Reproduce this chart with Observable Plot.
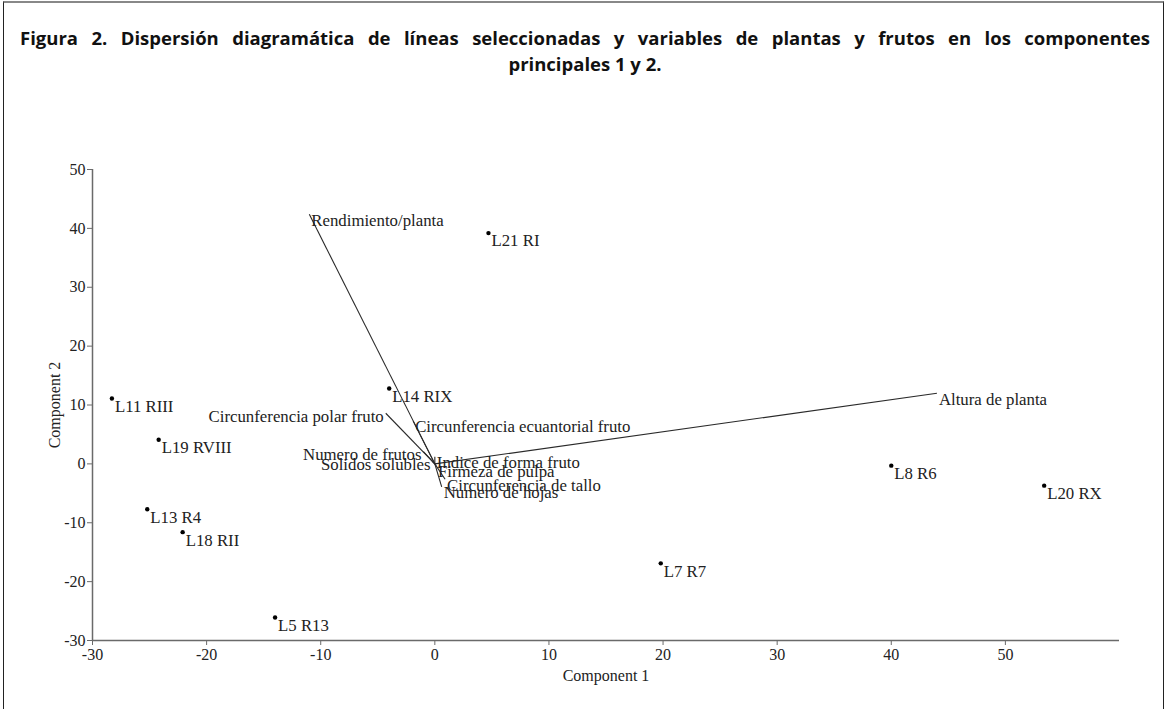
<!DOCTYPE html>
<html>
<head>
<meta charset="utf-8">
<script src="https://cdn.jsdelivr.net/npm/d3@7"></script>
<script src="https://cdn.jsdelivr.net/npm/@observablehq/plot@0.6"></script>
<style>
  html, body { margin: 0; padding: 0; background: #fff; }
  body { width: 1169px; height: 709px; position: relative; overflow: hidden; }
  #frame { position: absolute; left: 3px; top: 1px; width: 1161px; height: 740px;
           border: 1.5px solid #222; border-top: 2px solid #888; box-sizing: border-box; }
  #title { position: absolute; left: 20px; top: 25px; width: 1130px;
           font-family: "Open Sans", "Noto Sans", sans-serif; font-weight: bold; font-size: 18.5px; color: #111; line-height: 26px; }
  #title .l1 { text-align: justify; text-align-last: justify; white-space: nowrap; }
  #title .l2 { text-align: center; }
  #chart { position: absolute; left: 0; top: 100px; }
</style>
</head>
<body>
<div id="frame"></div>
<div id="title">
  <div class="l1">Figura 2. Dispersión diagramática de líneas seleccionadas y variables de plantas y frutos en los componentes</div>
  <div class="l2">principales 1 y 2.</div>
</div>
<div id="chart"></div>
<script>
// Observations (selected lines)
const pointNames = ["L21 RI", "L14 RIX", "L11 RIII", "L19 RVIII", "L13 R4", "L18 RII", "L5 R13", "L7 R7", "L8 R6", "L20 RX"];
const pointX = [4.7, -4.0, -28.3, -24.2, -25.2, -22.1, -14.0, 19.8, 40.0, 53.4];
const pointY = [39.2, 12.8, 11.1, 4.1, -7.7, -11.6, -26.1, -16.9, -0.3, -3.7];

// Variables (loading vectors)
const vectorNames = ["Rendimiento/planta", "Altura de planta", "Circunferencia polar fruto",
  "Circunferencia ecuantorial fruto", "Numero de frutos", "Solidos solubles",
  "Indice de forma fruto", "Firmeza de pulpa",
  "Circunferencia de tallo", "Numero de hojas"];
const vectorX = [-11.0, 44.0, -4.3, -1.9, -1.0, -0.2, 0.0, 0.1, 0.9, 0.6];
const vectorY = [42.4, 12.0, 8.6, 7.3, 2.1, 0.4, 1.2, -0.3, -2.6, -3.9];
const leftLabeled = ["Circunferencia polar fruto", "Numero de frutos", "Solidos solubles"];

// Axis ticks
const xTicks = [-30, -20, -10, 0, 10, 20, 30, 40, 50];
const yTicks = [-30, -20, -10, 0, 10, 20, 30, 40, 50];

const points = pointNames.map((n, i) => ({name: n, x: pointX[i], y: pointY[i]}));
const vectors = vectorNames.map((n, i) => ({name: n, x: vectorX[i], y: vectorY[i]}));
const vRight = vectors.filter(d => !leftLabeled.includes(d.name));
const vLeft = vectors.filter(d => leftLabeled.includes(d.name));

const axisColor = "#6a6a6a";
const textColor = "#222";
const fmt = d => String(d);

const chart = Plot.plot({
  width: 1169,
  height: 609,
  marginLeft: 92,
  marginRight: 50,
  marginTop: 69,
  marginBottom: 69,
  style: {fontFamily: "'Liberation Serif', 'Times New Roman', serif", fontSize: "16px", color: textColor, background: "transparent"},
  x: {domain: [-30, 60]},
  y: {domain: [-30, 50]},
  marks: [
    Plot.ruleY([-30], {stroke: axisColor, strokeWidth: 1.5}),
    Plot.ruleX([-30], {stroke: axisColor, strokeWidth: 1.5}),
    Plot.axisX({ticks: xTicks, tickFormat: fmt, tickSize: 5, stroke: axisColor, tickPadding: 3, fill: textColor, fontSize: 16,
      label: "Component 1", labelAnchor: "center", labelArrow: "none", labelOffset: 40}),
    Plot.axisY({ticks: yTicks, tickFormat: fmt, tickSize: 5, stroke: axisColor, tickPadding: 2, fill: textColor, fontSize: 16,
      label: "Component 2", labelAnchor: "center", labelArrow: "none", labelOffset: 44}),
    Plot.link(vectors, {x1: () => 0, y1: () => 0, x2: "x", y2: "y", stroke: "#2a2a2a", strokeWidth: 1.1}),
    Plot.text(vRight, {x: "x", y: "y", text: "name", textAnchor: "start", dx: 2, dy: 6, fill: textColor, fontSize: 16.8}),
    Plot.text(vLeft, {x: "x", y: "y", text: "name", textAnchor: "end", dx: -2, dy: 3, fill: textColor, fontSize: 16.8}),
    Plot.dot(points, {x: "x", y: "y", r: 2.2, fill: "#000", stroke: "none"}),
    Plot.text(points, {x: "x", y: "y", text: "name", textAnchor: "start", dx: 3, dy: 8, fill: textColor, fontSize: 16.8})
  ]
});
document.getElementById("chart").appendChild(chart);
</script>
</body>
</html>
